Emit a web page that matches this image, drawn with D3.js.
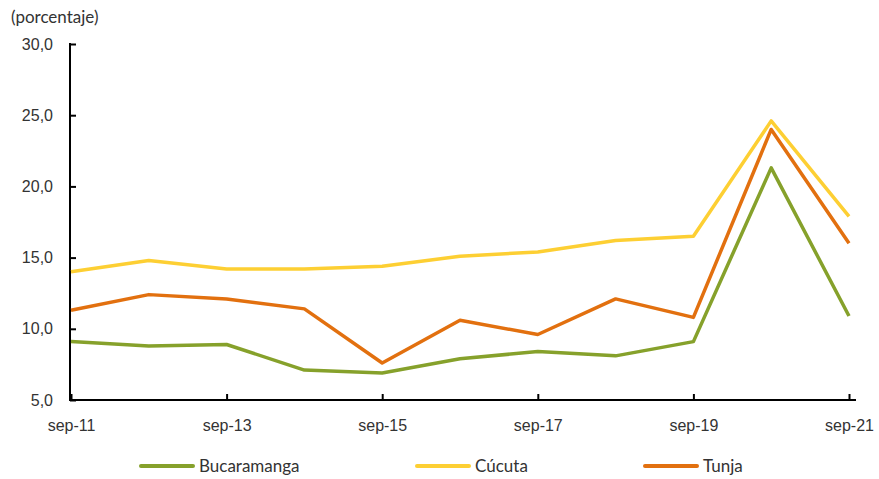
<!DOCTYPE html>
<html>
<head>
<meta charset="utf-8">
<script src="https://cdn.jsdelivr.net/npm/d3@7"></script>
<style>
  html, body { margin: 0; padding: 0; background: #fff; }
  svg { display: block; font-family: Lato, "Noto Sans", sans-serif; }
</style>
</head>
<body>
<svg id="chart" width="879" height="479"></svg>
<script>
// Yearly periods (September of each year)
const periods = ["sep-11", "sep-12", "sep-13", "sep-14", "sep-15", "sep-16",
                 "sep-17", "sep-18", "sep-19", "sep-20", "sep-21"];
const tickLabels = ["sep-11", "sep-13", "sep-15", "sep-17", "sep-19", "sep-21"];
const yTicks = [5, 10, 15, 20, 25, 30];

// Series values (porcentaje)
const bucaramanga = [9.1, 8.8, 8.9, 7.1, 6.9, 7.9, 8.4, 8.1, 9.1, 21.3, 10.9];
const cucuta      = [14.0, 14.8, 14.2, 14.2, 14.4, 15.1, 15.4, 16.2, 16.5, 24.6, 17.9];
const tunja       = [11.3, 12.4, 12.1, 11.4, 7.6, 10.6, 9.6, 12.1, 10.8, 24.0, 16.0];

const seriesNames = ["Bucaramanga", "Cúcuta", "Tunja"];
const seriesColors = ["#86A12B", "#FDCF33", "#E2700F"];
const seriesData = [bucaramanga, cucuta, tunja];

const svg = d3.select("#chart");

const x = d3.scalePoint().domain(periods).range([71, 849]);
const y = d3.scaleLinear().domain([5, 30]).range([400, 44]);

const fmt = v => d3.format(".1f")(v).replace(".", ",");

// Y axis with inward ticks
const yAxis = svg.append("g")
  .attr("transform", "translate(70,0)")
  .call(d3.axisLeft(y).tickValues(yTicks).tickSize(-6).tickPadding(17).tickFormat(fmt));
yAxis.select(".domain").attr("stroke", "#000").attr("stroke-width", 2).attr("d", "M0,43V401");
yAxis.selectAll(".tick line").attr("stroke", "#000").attr("stroke-width", 2);
yAxis.selectAll(".tick text")
  .attr("fill", "#333").attr("font-size", 16);

// X axis with inward ticks at labelled periods
const xAxis = svg.append("g")
  .attr("transform", "translate(0,400)")
  .call(d3.axisBottom(x).tickValues(tickLabels).tickSize(-6).tickPadding(20));
xAxis.select(".domain").attr("stroke", "#000").attr("stroke-width", 2).attr("d", "M69,0H856");
xAxis.selectAll(".tick line").attr("stroke", "#000").attr("stroke-width", 2);
xAxis.selectAll(".tick text")
  .attr("fill", "#333").attr("font-size", 16);

// Unit note
svg.append("text")
  .attr("x", 11).attr("y", 23)
  .attr("fill", "#333").attr("font-size", 17)
  .text("(porcentaje)");

// Lines
const line = d3.line()
  .x((d, i) => x(periods[i]))
  .y(d => y(d));

seriesData.forEach((vals, k) => {
  svg.append("path")
    .datum(vals)
    .attr("fill", "none")
    .attr("stroke", seriesColors[k])
    .attr("stroke-width", 3.5)
    .attr("stroke-linejoin", "round")
    .attr("d", line);
});

// Legend
const legendX = [141, 417, 645];
const legend = svg.append("g");
seriesNames.forEach((name, k) => {
  legend.append("line")
    .attr("x1", legendX[k]).attr("x2", legendX[k] + 52)
    .attr("y1", 466).attr("y2", 466)
    .attr("stroke", seriesColors[k]).attr("stroke-width", 4)
    .attr("stroke-linecap", "round");
  legend.append("text")
    .attr("x", legendX[k] + 58).attr("y", 472)
    .attr("fill", "#333").attr("font-size", 17)
    .text(name);
});
</script>
</body>
</html>
